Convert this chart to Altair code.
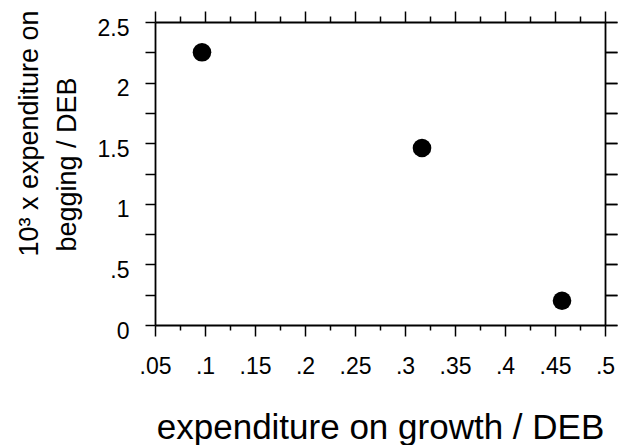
import altair as alt
import pandas as pd

# data
growth = [0.097, 0.317, 0.457]
begging = [2.25, 1.46, 0.20]

x_major = [0.05, 0.1, 0.15, 0.2, 0.25, 0.3, 0.35, 0.4, 0.45, 0.5]
x_minor = [0.075, 0.125, 0.175, 0.225, 0.275, 0.325, 0.375, 0.425, 0.475]
y_major = [0, 0.5, 1, 1.5, 2, 2.5]
y_minor = [0.25, 0.75, 1.25, 1.75, 2.25]
y_all = [0, 0.25, 0.5, 0.75, 1, 1.25, 1.5, 1.75, 2, 2.25, 2.5]

x_title = "expenditure on growth / DEB"
y_title_1 = "10³ x expenditure on"
y_title_2 = "begging / DEB"

df = pd.DataFrame({"growth": growth, "begging": begging})

FONT = "Liberation Sans"
xscale = alt.Scale(domain=[0.05, 0.5], nice=False, zero=False)
yscale = alt.Scale(domain=[0, 2.5], nice=False, zero=False)
lab = "replace(format(datum.value, '.3~f'), '0.', '.')"

base = alt.Chart(df)

points = base.mark_circle(size=346, color="black", opacity=1).encode(
    x=alt.X("growth:Q", scale=xscale,
            axis=alt.Axis(orient="bottom", values=x_major, tickSize=11, labelPadding=19,
                          labelExpr=lab, labelFontSize=23, labelFlush=False, grid=False,
                          title=x_title,
                          titleFontSize=35, titleFontWeight="normal", titleX=225, titleY=113,
                          titleBaseline="alphabetic", titleAlign="center")),
    y=alt.Y("begging:Q", scale=yscale,
            axis=alt.Axis(orient="left", values=y_major, tickSize=10, labelPadding=16,
                          labelExpr=lab, labelFontSize=23, labelOffset=6, labelFlush=False,
                          grid=False, title=y_title_1,
                          titleFontSize=27, titleFontWeight="normal", titleAngle=270,
                          titleX=-118, titleY=111, titleBaseline="alphabetic",
                          titleAlign="center")),
)


def ghost(xaxis, yaxis):
    return base.mark_point(opacity=0).encode(
        x=alt.X("growth:Q", scale=xscale, axis=xaxis),
        y=alt.Y("begging:Q", scale=yscale, axis=yaxis),
    )


g1 = ghost(
    alt.Axis(orient="bottom", values=x_minor, tickSize=5, labels=False, domain=False,
             grid=False, title=""),
    alt.Axis(orient="left", values=y_minor, tickSize=10, labels=False, domain=False,
             grid=False, title=y_title_2,
             titleFontSize=27, titleFontWeight="normal", titleAngle=270,
             titleX=-80, titleY=142, titleBaseline="alphabetic", titleAlign="center"),
)
g2 = ghost(
    alt.Axis(orient="top", values=x_major, tickSize=11, labels=False, grid=False, title=""),
    alt.Axis(orient="right", values=y_all, tickSize=12, labels=False, grid=False, title=""),
)
g3 = ghost(
    alt.Axis(orient="top", values=x_minor, tickSize=6, labels=False, domain=False,
             grid=False, title=""),
    alt.Axis(orient="right", values=y_all, tickSize=12, labels=False, domain=False,
             grid=False, title=""),
)

chart = (
    alt.layer(points, g1, g2, g3)
    .resolve_axis(x="independent", y="independent")
    .properties(
        width=450, height=303,
        background="white",
        autosize=alt.AutoSizeParams(type="none"),
        padding={"left": 155, "top": 22, "right": 15, "bottom": 120},
    )
    .configure_view(stroke=None)
    .configure_axis(grid=False, domainColor="black", tickColor="black", labelColor="black",
                    titleColor="black", domainWidth=1.8, tickWidth=1.5,
                    labelFont=FONT, titleFont=FONT)
)

chart.save("out.html", embed_options={"renderer": "svg", "actions": False})
